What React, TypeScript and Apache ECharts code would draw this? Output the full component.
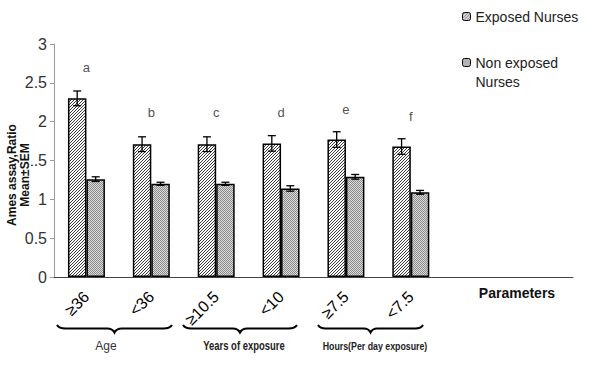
import React, { useEffect, useRef } from "react";
import * as echarts from "echarts";

const categories = ["≥36", "<36", "≥10.5", "<10", "≥7.5", "<7.5", "", ""];
const exposed = [2.3, 1.71, 1.71, 1.72, 1.77, 1.68];
const exposedSem = [0.095, 0.095, 0.095, 0.1, 0.1, 0.1];
const nonExposed = [1.26, 1.2, 1.2, 1.14, 1.29, 1.09];
const nonExposedSem = [0.03, 0.02, 0.02, 0.035, 0.03, 0.025];
const letters = ["a", "b", "c", "d", "e", "f"];
const letterY = [2.7, 2.12, 2.12, 2.12, 2.16, 2.07];
const groupNames = ["Age", "Years of exposure", "Hours(Per day exposure)"];
const yTicks = { min: 0, max: 3, interval: 0.5 };

const FONT = "Liberation Sans, Arial, sans-serif";

function makeHatch(): HTMLCanvasElement {
  const c = document.createElement("canvas");
  c.width = 3;
  c.height = 3;
  const ctx = c.getContext("2d")!;
  ctx.fillStyle = "#ffffff";
  ctx.fillRect(0, 0, 3, 3);
  ctx.fillStyle = "#3a3a3a";
  ctx.fillRect(0, 2, 1, 1);
  ctx.fillRect(1, 1, 1, 1);
  ctx.fillRect(2, 0, 1, 1);
  return c;
}

function makeDots(): HTMLCanvasElement {
  const c = document.createElement("canvas");
  c.width = 2;
  c.height = 2;
  const ctx = c.getContext("2d")!;
  ctx.fillStyle = "#dcdcdc";
  ctx.fillRect(0, 0, 2, 2);
  ctx.fillStyle = "#8a8a8a";
  ctx.fillRect(0, 0, 1, 1);
  ctx.fillRect(1, 1, 1, 1);
  return c;
}

const BRACE_D =
  "M0,0 Q2,3.5 8,3.5 L48,3.5 Q53,3.5 55,7.5 Q57,3.5 62,3.5 L102,3.5 Q108,3.5 110,0";
echarts.graphic.registerShape("brace", echarts.graphic.extendPath(BRACE_D, {}));

const BAR_FRAC = 0.285;

export default function App() {
  const ref = useRef<HTMLDivElement>(null);
  useEffect(() => {
    const chart = echarts.init(ref.current!, null, { renderer: "svg" });
    const hatch = { image: makeHatch(), repeat: "repeat" };
    const dots = { image: makeDots(), repeat: "repeat" };

    const errRender = (sign: number) => (params: any, api: any) => {
      const idx = api.value(0);
      const lo = api.coord([idx, api.value(1)]);
      const hi = api.coord([idx, api.value(2)]);
      const band = api.size([1, 0])[0];
      const x = lo[0] + (sign * band * BAR_FRAC) / 2;
      const cap = 4;
      const st = { stroke: "#000", lineWidth: 1.3 };
      return {
        type: "group",
        children: [
          { type: "line", shape: { x1: x, y1: lo[1], x2: x, y2: hi[1] }, style: st },
          { type: "line", shape: { x1: x - cap, y1: lo[1], x2: x + cap, y2: lo[1] }, style: st },
          { type: "line", shape: { x1: x - cap, y1: hi[1], x2: x + cap, y2: hi[1] }, style: st },
        ],
      };
    };

    const braces = [
      { x: 57, w: 115 },
      { x: 183, w: 114 },
      { x: 318, w: 105 },
    ];
    const groupLabelX = [106, 244, 375];
    const groupScale = [1, 0.79, 0.8];
    const groupStyles = [
      { fontSize: 12, fontWeight: "normal", fill: "#333" },
      { fontSize: 12, fontWeight: "bold", fill: "#222" },
      { fontSize: 11, fontWeight: "bold", fill: "#222" },
    ];

    chart.setOption({
      animation: false,
      textStyle: { fontFamily: FONT },
      grid: { left: 54, right: 16, top: 44, bottom: 88 },
      legend: {
        orient: "vertical",
        left: 457,
        top: 2,
        itemWidth: 8,
        itemHeight: 8,
        itemGap: 8,
        data: ["Exposed Nurses", "Non exposed Nurses"],
        formatter: (n: string) => (n === "Non exposed Nurses" ? "\nNon exposed\nNurses" : n),
        textStyle: { fontSize: 14, color: "#222", lineHeight: 19, fontFamily: FONT },
        itemStyle: { borderColor: "#000", borderWidth: 1 },
      },
      xAxis: {
        type: "category",
        data: categories,
        axisLine: { lineStyle: { color: "#444", width: 1 } },
        axisTick: { interval: 1, length: 5, lineStyle: { color: "#444" } },
        axisLabel: {
          interval: 0,
          rotate: 45,
          fontSize: 16,
          color: "#000",
          margin: 17,
          fontFamily: FONT,
        },
      },
      yAxis: {
        type: "value",
        min: yTicks.min,
        max: yTicks.max,
        interval: yTicks.interval,
        splitLine: { show: false },
        axisLine: { show: true, lineStyle: { color: "#999" } },
        axisTick: { show: true, length: 4, lineStyle: { color: "#999" } },
        axisLabel: { fontSize: 16, color: "#333", margin: 7, fontFamily: FONT },
      },
      series: [
        {
          name: "Exposed Nurses",
          type: "bar",
          data: exposed,
          barWidth: BAR_FRAC * 100 + "%",
          barGap: "0%",
          itemStyle: { color: hatch, borderColor: "#000", borderWidth: 1.5 },
        },
        {
          name: "Non exposed Nurses",
          type: "bar",
          data: nonExposed,
          barWidth: BAR_FRAC * 100 + "%",
          barGap: "0%",
          itemStyle: { color: dots, borderColor: "#000", borderWidth: 1.5 },
        },
        {
          type: "custom",
          renderItem: errRender(-1),
          data: exposed.map((v, i) => [i, v - exposedSem[i], v + exposedSem[i]]),
          z: 5,
        },
        {
          type: "custom",
          renderItem: errRender(1),
          data: nonExposed.map((v, i) => [i, v - nonExposedSem[i], v + nonExposedSem[i]]),
          z: 5,
        },
        {
          type: "scatter",
          symbolSize: 0,
          data: letterY.map((y, i) => ({ value: [i, y], name: letters[i] })),
          label: {
            show: true,
            position: "inside",
            formatter: (p: any) => p.name,
            fontSize: 13,
            color: "#222",
            fontFamily: FONT,
          },
          silent: true,
        },
      ],
      graphic: [
        {
          type: "text",
          x: 18,
          y: 175,
          z: 100,
          rotation: Math.PI / 2,
          style: {
            text: "Ames assay,Ratio\nMean±SEM",
            fontSize: 12,
            fontWeight: "bold",
            fill: "#111",
            align: "center",
            verticalAlign: "middle",
            lineHeight: 13,
            backgroundColor: "#fff",
            fontFamily: FONT,
          },
        },
        {
          type: "text",
          x: 517,
          y: 293,
          style: {
            text: "Parameters",
            fontSize: 14,
            fontWeight: "bold",
            fill: "#111",
            align: "center",
            verticalAlign: "middle",
            fontFamily: FONT,
          },
        },
        ...braces.map((b) => ({
          type: "brace",
          x: b.x,
          y: 325,
          scaleX: b.w / 110,
          scaleY: 1,
          style: { stroke: "#000", lineWidth: 2, fill: null },
        })),
        ...groupNames.map((g, i) => ({
          type: "text",
          x: groupLabelX[i],
          y: 346,
          scaleX: groupScale[i],
          style: {
            text: g,
            align: "center",
            verticalAlign: "middle",
            fontFamily: FONT,
            ...groupStyles[i],
          },
        })),
      ],
    });
    return () => chart.dispose();
  }, []);
  return (
    <div
      ref={ref}
      style={{ position: "fixed", left: 0, top: 0, width: 589, height: 365, background: "#fff" }}
    />
  );
}
